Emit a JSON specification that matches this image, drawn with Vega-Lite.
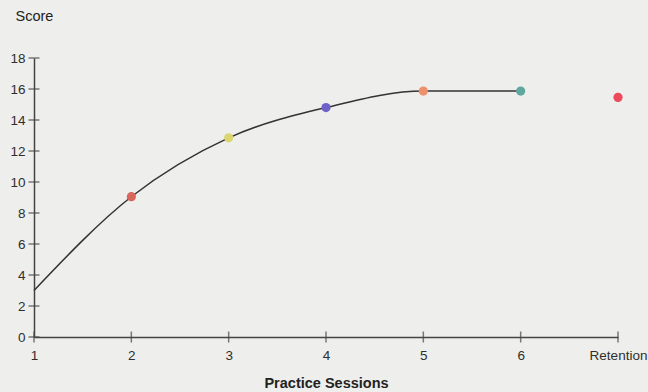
{
  "$schema": "https://vega.github.io/schema/vega-lite/v6.json",
  "width": 584,
  "height": 279,
  "autosize": {"type": "none"},
  "padding": {"left": 34, "top": 58, "right": 30, "bottom": 55},
  "background": "#eeeeec",
  "config": {
    "view": {"stroke": null},
    "font": "Liberation Sans",
    "axis": {"domainColor": "#444444", "domainWidth": 1.5, "grid": false, "ticks": false, "labelColor": "#2e2e2e", "titleColor": "#222222", "labelFont": "Liberation Sans", "titleFont": "Liberation Sans", "labelFontSize": 13.5, "labelOverlap": false, "labelFlush": false, "labelBound": false},
    "axisX": {"labelAngle": 0, "labelPadding": 11, "titleFontSize": 14.5, "titleFontWeight": "bold", "titlePadding": 15},
    "axisY": {"labelPadding": 9, "titleFontSize": 14.5, "titleFontWeight": "normal", "titleAngle": 0, "titleAlign": "left", "titleBaseline": "alphabetic", "titleX": -19, "titleY": -38}
  },
  "datasets": {
    "scores": [
      {"session": "1", "score": 3, "kind": "practice"},
      {"session": "2", "score": 9.05, "kind": "practice"},
      {"session": "3", "score": 12.85, "kind": "practice"},
      {"session": "4", "score": 14.8, "kind": "practice"},
      {"session": "5", "score": 15.87, "kind": "practice"},
      {"session": "6", "score": 15.87, "kind": "practice"},
      {"session": "Retention", "score": 15.46, "kind": "retention"}
    ],
    "yticks": [{"v": 0}, {"v": 2}, {"v": 4}, {"v": 6}, {"v": 8}, {"v": 10}, {"v": 12}, {"v": 14}, {"v": 16}, {"v": 18}]
  },
  "layer": [
    {
      "data": {"name": "scores"},
      "mark": {"type": "tick", "orient": "vertical", "color": "#444444", "size": 11, "thickness": 1.5},
      "encoding": {
        "x": {
          "field": "session",
          "type": "ordinal",
          "scale": {"type": "point", "padding": 0, "domain": ["1", "2", "3", "4", "5", "6", "Retention"]},
          "axis": {"title": "Practice Sessions", "labelOverlap": false, "labelFlush": false}
        },
        "y": {
          "datum": 0,
          "type": "quantitative",
          "scale": {"domain": [0, 18], "nice": false, "zero": true},
          "axis": {"title": "Score", "values": [0, 2, 4, 6, 8, 10, 12, 14, 16, 18], "labelOverlap": false, "tickCount": 10}
        }
      }
    },
    {
      "data": {"name": "yticks"},
      "mark": {"type": "tick", "orient": "horizontal", "color": "#444444", "size": 11, "thickness": 1.5},
      "encoding": {
        "x": {"datum": "1", "type": "ordinal", "axis": {"title": "Practice Sessions", "labelOverlap": false, "labelFlush": false}},
        "y": {"field": "v", "type": "quantitative", "axis": {"title": "Score", "values": [0, 2, 4, 6, 8, 10, 12, 14, 16, 18], "labelOverlap": false, "tickCount": 10}}
      }
    },
    {
      "data": {"name": "scores"},
      "transform": [{"filter": "datum.kind == 'practice'"}],
      "mark": {"type": "line", "interpolate": "monotone", "color": "#333333", "strokeWidth": 1.5},
      "encoding": {
        "x": {"field": "session", "type": "ordinal", "axis": {"title": "Practice Sessions", "labelOverlap": false, "labelFlush": false}},
        "y": {"field": "score", "type": "quantitative", "axis": {"title": "Score", "values": [0, 2, 4, 6, 8, 10, 12, 14, 16, 18], "labelOverlap": false, "tickCount": 10}}
      }
    },
    {
      "data": {"name": "scores"},
      "transform": [{"filter": "datum.session != '1'"}],
      "mark": {"type": "circle", "size": 85, "opacity": 1},
      "encoding": {
        "x": {"field": "session", "type": "ordinal", "axis": {"title": "Practice Sessions", "labelOverlap": false, "labelFlush": false}},
        "y": {"field": "score", "type": "quantitative", "axis": {"title": "Score", "values": [0, 2, 4, 6, 8, 10, 12, 14, 16, 18], "labelOverlap": false, "tickCount": 10}},
        "color": {
          "field": "session",
          "type": "nominal",
          "scale": {"domain": ["2", "3", "4", "5", "6", "Retention"], "range": ["#d8665a", "#dcd672", "#6e62c8", "#ef906c", "#5fa8a0", "#ec4a5a"]},
          "legend": null
        }
      }
    }
  ]
}
